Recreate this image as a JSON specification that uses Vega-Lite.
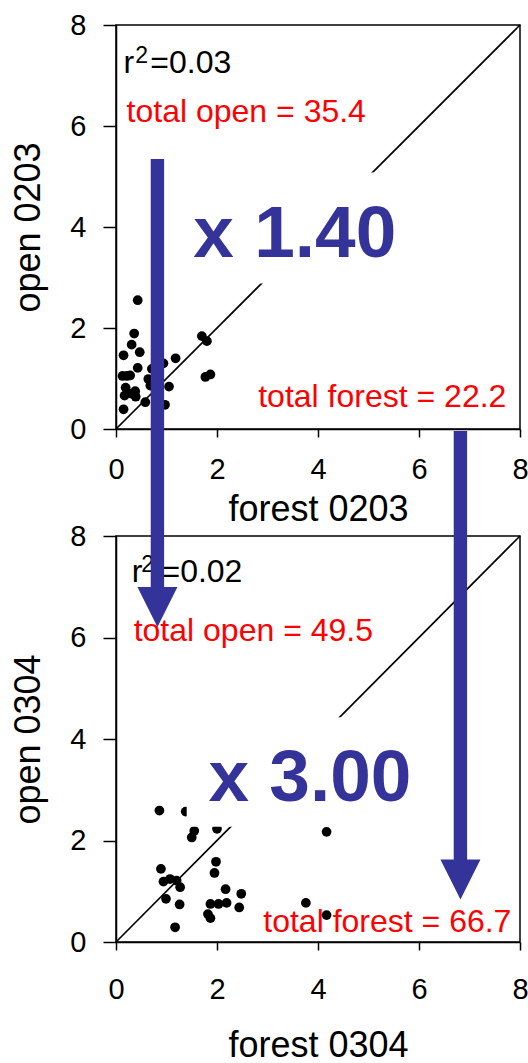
{
  "$schema": "https://vega.github.io/schema/vega-lite/v6.json",
  "padding": {"left": 10, "top": 10, "right": 0, "bottom": 0},
  "bounds": "flush",
  "spacing": 107,
  "config": {
    "view": {"stroke": "black", "strokeWidth": 1.5},
    "font": "Liberation Sans",
    "axis": {
      "grid": false,
      "domainColor": "black",
      "domainWidth": 1.5,
      "tickColor": "black",
      "tickWidth": 1.5,
      "labelFont": "Liberation Sans",
      "labelFontSize": 29,
      "labelColor": "black",
      "labelFlush": false,
      "labelOverlap": false,
      "titleFont": "Liberation Sans",
      "titleFontSize": 36,
      "titleFontWeight": "normal",
      "titleColor": "black"
    },
    "axisX": {"tickSize": 8},
    "axisY": {"tickSize": 13, "labelPadding": 17, "titlePadding": 22}
  },
  "datasets": {
    "diag": [{"x": 0, "y": 0}, {"x": 8, "y": 8}],
    "p1": [
      {"x": 0.43, "y": 2.55}, {"x": 0.36, "y": 1.89}, {"x": 0.31, "y": 1.67}, {"x": 0.15, "y": 1.46},
      {"x": 0.47, "y": 1.52}, {"x": 0.13, "y": 1.05}, {"x": 0.22, "y": 1.05}, {"x": 0.28, "y": 1.06},
      {"x": 0.43, "y": 1.21}, {"x": 0.19, "y": 0.82}, {"x": 0.17, "y": 0.66}, {"x": 0.38, "y": 0.75},
      {"x": 0.39, "y": 0.64}, {"x": 0.3, "y": 0.7}, {"x": 0.15, "y": 0.39}, {"x": 0.58, "y": 0.53},
      {"x": 0.71, "y": 1.19}, {"x": 0.64, "y": 0.99}, {"x": 0.68, "y": 0.86}, {"x": 0.94, "y": 1.3},
      {"x": 1.18, "y": 1.4}, {"x": 1.05, "y": 0.84}, {"x": 0.97, "y": 0.48}, {"x": 1.7, "y": 1.84},
      {"x": 1.8, "y": 1.74}, {"x": 1.77, "y": 1.03}, {"x": 1.87, "y": 1.08}
    ],
    "p2": [
      {"x": 0.86, "y": 2.59}, {"x": 1.38, "y": 2.57}, {"x": 1.55, "y": 2.19}, {"x": 1.5, "y": 2.06},
      {"x": 2.0, "y": 2.23}, {"x": 4.17, "y": 2.17}, {"x": 0.89, "y": 1.44}, {"x": 1.98, "y": 1.58},
      {"x": 1.95, "y": 1.36}, {"x": 0.94, "y": 1.19}, {"x": 1.07, "y": 1.24}, {"x": 1.2, "y": 1.21},
      {"x": 1.27, "y": 1.08}, {"x": 0.99, "y": 0.85}, {"x": 1.26, "y": 0.74}, {"x": 1.17, "y": 0.29},
      {"x": 2.17, "y": 1.04}, {"x": 2.48, "y": 0.95}, {"x": 2.44, "y": 0.68}, {"x": 1.87, "y": 0.75},
      {"x": 2.03, "y": 0.75}, {"x": 2.19, "y": 0.77}, {"x": 1.82, "y": 0.55}, {"x": 1.87, "y": 0.47},
      {"x": 3.76, "y": 0.77}, {"x": 4.17, "y": 0.53}
    ],
    "box1": [{"x": 0.94, "x2": 5.85, "y": 2.88, "y2": 5.08}],
    "box2": [{"x": 1.4, "x2": 6.0, "y": 2.27, "y2": 4.43}],
    "red1a": [{"x": 0.21, "y": 6.07, "label": "total open = 35.4"}],
    "red1b": [{"x": 7.73, "y": 0.43, "label": "total forest = 22.2"}],
    "red2a": [{"x": 0.35, "y": 5.94, "label": "total open = 49.5"}],
    "red2b": [{"x": 7.83, "y": 0.2, "label": "total forest = 66.7"}],
    "r1": [{"x": 0.15, "y": 7.04, "label": "r"}, {"x": 0.68, "y": 7.04, "label": "=0.03"}],
    "s1": [{"x": 0.38, "y": 7.24, "label": "2"}],
    "r2": [{"x": 0.31, "y": 7.09, "label": "r"}, {"x": 0.9, "y": 7.09, "label": "=0.02"}],
    "s2": [{"x": 0.5, "y": 7.29, "label": "2"}],
    "big1": [{"x": 1.53, "y": 3.4, "label": "x 1.40"}],
    "big2": [{"x": 1.83, "y": 2.78, "label": "x 3.00"}],
    "shafts": [{"x": 0.82, "y": 15.43, "y2": 6.9}, {"x": 6.82, "y": 10.07, "y2": 1.55}],
    "heads": [{"x": 0.82, "y": 6.6}, {"x": 6.82, "y": 1.23}]
  },
  "vconcat": [
    {
      "width": 404,
      "height": 404,
      "encoding": {
        "x": {"field": "x", "type": "quantitative", "scale": {"domain": [0, 8], "nice": false}, "axis": {"title": "forest 0203", "values": [0, 2, 4, 6, 8], "labelPadding": 18, "titlePadding": 8}},
        "y": {"field": "y", "type": "quantitative", "scale": {"domain": [0, 8], "nice": false}, "axis": {"title": "open 0203", "values": [0, 2, 4, 6, 8]}}
      },
      "layer": [
        {"data": {"name": "diag"}, "mark": {"type": "line", "color": "black", "strokeWidth": 1.7}},
        {"data": {"name": "red1a"}, "mark": {"type": "text", "align": "left", "baseline": "alphabetic", "fontSize": 32, "color": "#ff0000"}, "encoding": {"text": {"field": "label"}}},
        {"data": {"name": "red1b"}, "mark": {"type": "text", "align": "right", "baseline": "alphabetic", "fontSize": 32, "color": "#ff0000"}, "encoding": {"text": {"field": "label"}}},
        {"data": {"name": "r1"}, "mark": {"type": "text", "align": "left", "baseline": "alphabetic", "fontSize": 32, "color": "black"}, "encoding": {"text": {"field": "label"}}},
        {"data": {"name": "s1"}, "mark": {"type": "text", "align": "left", "baseline": "alphabetic", "fontSize": 23, "color": "black"}, "encoding": {"text": {"field": "label"}}},
        {"data": {"name": "p1"}, "mark": {"type": "circle", "size": 95, "color": "black", "opacity": 1}},
        {"data": {"name": "box1"}, "mark": {"type": "rect", "fill": "white"}, "encoding": {"x2": {"field": "x2"}, "y2": {"field": "y2"}}},
        {"data": {"name": "big1"}, "mark": {"type": "text", "align": "left", "baseline": "alphabetic", "fontSize": 73, "fontWeight": "bold", "color": "#333399"}, "encoding": {"text": {"field": "label"}}}
      ]
    },
    {
      "width": 404,
      "height": 406,
      "encoding": {
        "x": {"field": "x", "type": "quantitative", "scale": {"domain": [0, 8], "nice": false}, "axis": {"title": "forest 0304", "values": [0, 2, 4, 6, 8], "labelPadding": 25, "titlePadding": 24}},
        "y": {"field": "y", "type": "quantitative", "scale": {"domain": [0, 8], "nice": false}, "axis": {"title": "open 0304", "values": [0, 2, 4, 6, 8]}}
      },
      "layer": [
        {"data": {"name": "diag"}, "mark": {"type": "line", "color": "black", "strokeWidth": 1.7}},
        {"data": {"name": "red2a"}, "mark": {"type": "text", "align": "left", "baseline": "alphabetic", "fontSize": 32, "color": "#ff0000"}, "encoding": {"text": {"field": "label"}}},
        {"data": {"name": "red2b"}, "mark": {"type": "text", "align": "right", "baseline": "alphabetic", "fontSize": 32, "color": "#ff0000"}, "encoding": {"text": {"field": "label"}}},
        {"data": {"name": "r2"}, "mark": {"type": "text", "align": "left", "baseline": "alphabetic", "fontSize": 32, "color": "black"}, "encoding": {"text": {"field": "label"}}},
        {"data": {"name": "s2"}, "mark": {"type": "text", "align": "left", "baseline": "alphabetic", "fontSize": 23, "color": "black"}, "encoding": {"text": {"field": "label"}}},
        {"data": {"name": "p2"}, "mark": {"type": "circle", "size": 95, "color": "black", "opacity": 1}},
        {"data": {"name": "box2"}, "mark": {"type": "rect", "fill": "white"}, "encoding": {"x2": {"field": "x2"}, "y2": {"field": "y2"}}},
        {"data": {"name": "big2"}, "mark": {"type": "text", "align": "left", "baseline": "alphabetic", "fontSize": 73, "fontWeight": "bold", "color": "#333399"}, "encoding": {"text": {"field": "label"}}},
        {"data": {"name": "shafts"}, "mark": {"type": "rule", "color": "#333399", "strokeWidth": 13.4, "strokeCap": "butt"}, "encoding": {"y2": {"field": "y2"}}},
        {"data": {"name": "heads"}, "mark": {"type": "point", "shape": "M-1,-1L1,-1L0,1Z", "size": 1600, "filled": true, "color": "#333399", "opacity": 1, "strokeWidth": 0}}
      ]
    }
  ]
}
